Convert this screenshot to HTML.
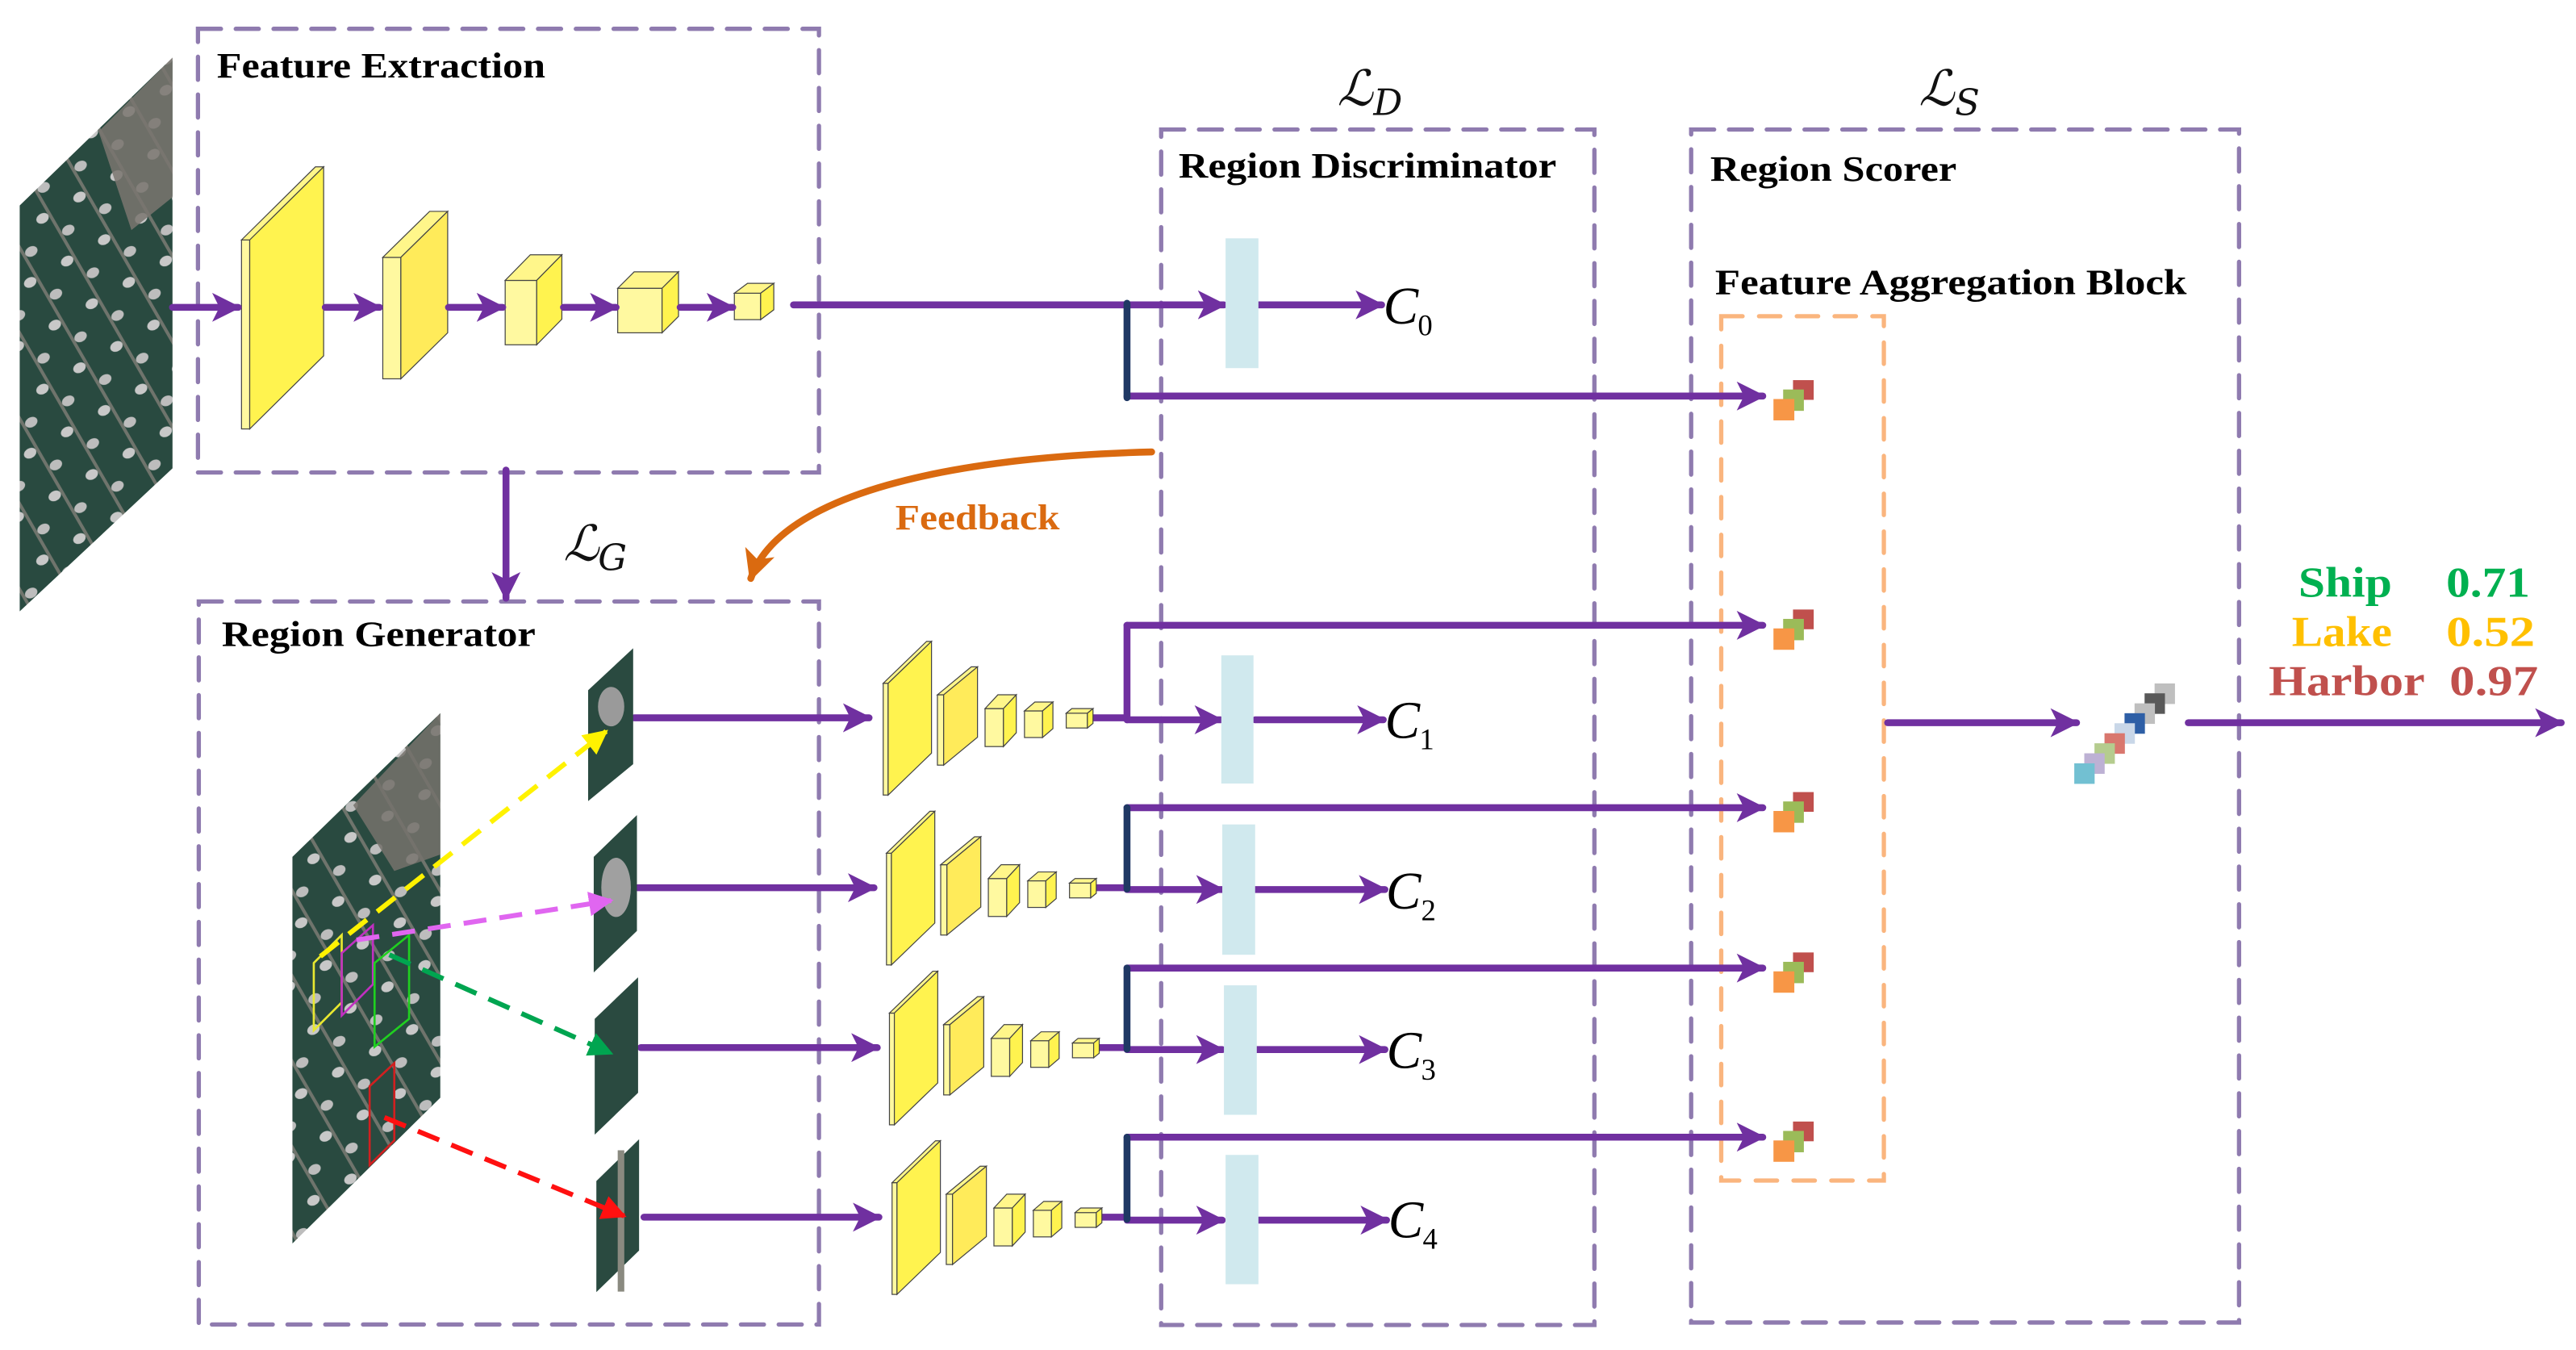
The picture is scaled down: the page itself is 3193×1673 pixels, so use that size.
<!DOCTYPE html>
<html><head><meta charset="utf-8"><style>
html,body{margin:0;padding:0;background:#fff;}
svg{display:block;}
.t{font-family:"Liberation Serif",serif;font-weight:bold;}
</style></head><body>
<svg width="3193" height="1673" viewBox="0 0 1568 821.5" xmlns="http://www.w3.org/2000/svg">
<defs>
<marker id="ah" viewBox="0 0 10 10" refX="9" refY="5" markerWidth="4.2" markerHeight="4.2" orient="auto" markerUnits="strokeWidth"><path d="M0,0 L10,5 L0,10 L2.5,5 Z" fill="#7030A0"/></marker>
<marker id="ao" viewBox="0 0 10 10" refX="9" refY="5" markerWidth="4.5" markerHeight="4.5" orient="auto" markerUnits="strokeWidth"><path d="M0,0 L10,5 L0,10 L2.5,5 Z" fill="#DA6A10"/></marker>
<marker id="ay" viewBox="0 0 10 10" refX="9" refY="5" markerWidth="5" markerHeight="5" orient="auto" markerUnits="strokeWidth"><path d="M0,0 L10,5 L0,10 Z" fill="#FFF200"/></marker>
<marker id="am" viewBox="0 0 10 10" refX="9" refY="5" markerWidth="5" markerHeight="5" orient="auto" markerUnits="strokeWidth"><path d="M0,0 L10,5 L0,10 Z" fill="#E066F0"/></marker>
<marker id="ag" viewBox="0 0 10 10" refX="9" refY="5" markerWidth="5" markerHeight="5" orient="auto" markerUnits="strokeWidth"><path d="M0,0 L10,5 L0,10 Z" fill="#00A550"/></marker>
<marker id="ar" viewBox="0 0 10 10" refX="9" refY="5" markerWidth="5" markerHeight="5" orient="auto" markerUnits="strokeWidth"><path d="M0,0 L10,5 L0,10 Z" fill="#FF1010"/></marker>
<pattern id="boats" width="26" height="30" patternUnits="userSpaceOnUse" patternTransform="rotate(-30)">
<rect width="26" height="30" fill="#294A40"/>
<rect x="12" y="0" width="2" height="30" fill="#6f746c"/>
<ellipse cx="8" cy="8" rx="4" ry="3" fill="#c8c8c8"/>
<ellipse cx="18" cy="22" rx="4" ry="3" fill="#bdbdbd"/>
</pattern>
<g id="stack" stroke="#444" stroke-width="0.6">
<rect x="0" y="-21" width="3" height="68" fill="#FFF9A0"/>
<polygon points="0,-21 26.4,-46.5 29.4,-46.5 3,-21" fill="#FFF68A"/>
<polygon points="3,-21 29.4,-46.5 29.4,21.5 3,47" fill="#FFF34F"/>
<rect x="33" y="-14" width="3.8" height="42.8" fill="#FFF9A0"/>
<polygon points="33,-14 53.6,-31 57.4,-31 36.8,-14" fill="#FFF68A"/>
<polygon points="36.8,-14 57.4,-31 57.4,11.8 36.8,28.8" fill="#FFEB5A"/>
<rect x="62" y="-5.6" width="11.2" height="23.1" fill="#FFF9A0"/>
<polygon points="62,-5.6 69.8,-14 81,-14 73.2,-5.6" fill="#FFF68A"/>
<polygon points="73.2,-5.6 81,-14 81,9.1 73.2,17.5" fill="#FFF34F"/>
<rect x="86" y="-4.2" width="11" height="16.2" fill="#FFF9A0"/>
<polygon points="86,-4.2 92.3,-9.6 103.3,-9.6 97,-4.2" fill="#FFF68A"/>
<polygon points="97,-4.2 103.3,-9.6 103.3,6.6 97,12" fill="#FFF34F"/>
<rect x="111.4" y="-2.8" width="12.9" height="9" fill="#FFF9A0"/>
<polygon points="111.4,-2.8 114.8,-5.6 127.7,-5.6 124.3,-2.8" fill="#FFF68A"/>
<polygon points="124.3,-2.8 127.7,-5.6 127.7,3.4 124.3,6.2" fill="#FFF34F"/>
</g>
<g id="sq">
<rect x="1091.4" y="-9.5" width="12.6" height="12" fill="#C0504D"/>
<rect x="1085.4" y="-3.8" width="12.6" height="13" fill="#9BBB59"/>
<rect x="1079.5" y="2" width="12.7" height="13" fill="#F79646"/>
</g>
</defs>

<g fill="none" stroke="#8F7BAF" stroke-width="2.6" stroke-dasharray="14 9" stroke-linecap="round">
<rect x="120.5" y="17.5" width="378" height="270"/>
<rect x="121" y="366" width="377.5" height="440"/>
<rect x="706.8" y="78.8" width="263.7" height="727.5"/>
<rect x="1029.4" y="78.8" width="333.5" height="726"/>
</g>
<rect x="1047.7" y="192.4" width="99" height="526" fill="none" stroke="#FAB57E" stroke-width="2.6" stroke-dasharray="13 10" stroke-linecap="round"/>

<text class="t" x="132" y="47" font-size="22" textLength="200" lengthAdjust="spacingAndGlyphs">Feature Extraction</text>
<text class="t" x="135" y="393" font-size="22" textLength="191" lengthAdjust="spacingAndGlyphs">Region Generator</text>
<text class="t" x="717.4" y="108" font-size="22" textLength="230" lengthAdjust="spacingAndGlyphs">Region Discriminator</text>
<text class="t" x="1041" y="110" font-size="22" textLength="150" lengthAdjust="spacingAndGlyphs">Region Scorer</text>
<text class="t" x="1044" y="179" font-size="22" textLength="287" lengthAdjust="spacingAndGlyphs">Feature Aggregation Block</text>

<g font-family="DejaVu Serif, serif" font-style="italic" fill="#111">
<text x="343" y="341" font-size="30">ℒ</text><text x="364" y="347" font-size="22">G</text>
<text x="814" y="64" font-size="30">ℒ</text><text x="836" y="70" font-size="22">D</text>
<text x="1168" y="64" font-size="30">ℒ</text><text x="1190" y="70" font-size="22">S</text>
</g>

<polygon points="12,125 105,35 105,285 12,372" fill="url(#boats)"/>
<polygon points="60,80 105,35 105,120 80,140" fill="#7a7670" opacity="0.85"/>

<g stroke="#444" stroke-width="0.6">
<rect x="147" y="146" width="5" height="115" fill="#FFF9A0"/>
<polygon points="147,146 192,101.5 197,101.5 152,146" fill="#FFF68A"/>
<polygon points="152,146 197,101.5 197,216.5 152,261" fill="#FFF34F"/>
<rect x="233" y="156.6" width="11" height="73.9" fill="#FFF9A0"/>
<polygon points="233,156.6 261.5,128.6 272.5,128.6 244,156.6" fill="#FFF68A"/>
<polygon points="244,156.6 272.5,128.6 272.5,202.5 244,230.5" fill="#FFEB5A"/>
<rect x="307.5" y="170.6" width="19.2" height="39.2" fill="#FFF9A0"/>
<polygon points="307.5,170.6 322.8,155 342,155 326.7,170.6" fill="#FFF68A"/>
<polygon points="326.7,170.6 342,155 342,194.2 326.7,209.8" fill="#FFF34F"/>
<rect x="376" y="175.4" width="27" height="27.1" fill="#FFF9A0"/>
<polygon points="376,175.4 386,165.4 413,165.4 403,175.4" fill="#FFF68A"/>
<polygon points="403,175.4 413,165.4 413,192.5 403,202.5" fill="#FFF34F"/>
<rect x="447" y="178.4" width="16" height="16.1" fill="#FFF9A0"/>
<polygon points="447,178.4 455,172.4 471,172.4 463,178.4" fill="#FFF68A"/>
<polygon points="463,178.4 471,172.4 471,188.5 463,194.5" fill="#FFF34F"/>
</g>

<g stroke="#7030A0" stroke-width="4.2" fill="none" stroke-linecap="round" marker-end="url(#ah)">
<path d="M105,187 H145"/>
<path d="M198,187 H231"/>
<path d="M273,187 H306"/>
<path d="M343,187 H375"/>
<path d="M414,187 H446"/>
<path d="M483,185.5 H745"/>
<path d="M765,185.5 H841"/>
<path d="M308,286 V364"/>
<path d="M686,241 H1073"/>
<path d="M386,436.8 H529"/>
<path d="M388,540.2 H532"/>
<path d="M390,637.5 H534"/>
<path d="M392,740.7 H535"/>
<path d="M686,380.5 H1073"/>
<path d="M686,491.5 H1073"/>
<path d="M686,589.1 H1073"/>
<path d="M686,692 H1073"/>
<path d="M686,438 H743"/>
<path d="M686,541.3 H744"/>
<path d="M686,638.7 H744"/>
<path d="M686,742.5 H744"/>
<path d="M764,438 H842"/>
<path d="M764,541.3 H843"/>
<path d="M765,638.7 H843"/>
<path d="M766,742.5 H844"/>
<path d="M1149,439.8 H1264"/>
<path d="M1332,439.8 H1559"/>
</g>
<g stroke="#7030A0" stroke-width="4.2" fill="none" stroke-linecap="round">
<path d="M665,436.8 H686"/>
<path d="M667,540.2 H686"/>
<path d="M669,637.5 H686"/>
<path d="M671,740.7 H686"/>
<path d="M686,380.5 V438"/>
</g>
<g stroke="#1F3864" stroke-width="4.2" stroke-linecap="round">
<path d="M686,184.5 V242"/>
<path d="M686,491.5 V541"/>
<path d="M686,589.1 V638.5"/>
<path d="M686,692 V742"/>
</g>

<use href="#stack" transform="translate(537.6,436.8)"/>
<use href="#stack" transform="translate(539.6,540.2)"/>
<use href="#stack" transform="translate(541.4,637.5)"/>
<use href="#stack" transform="translate(543,740.7)"/>

<g fill="#D0E9EE">
<rect x="746" y="145" width="20" height="79"/>
<rect x="743.4" y="398.8" width="19.6" height="78"/>
<rect x="744" y="501.7" width="20" height="79.3"/>
<rect x="745" y="599.6" width="20" height="78.8"/>
<rect x="746" y="702.8" width="20" height="78.7"/>
</g>

<g font-family="Liberation Serif, serif" fill="#000">
<text x="842" y="197" font-size="32" font-style="italic">C</text><text x="863" y="204" font-size="18">0</text>
<text x="843" y="449" font-size="32" font-style="italic">C</text><text x="864" y="456" font-size="18">1</text>
<text x="843.6" y="553" font-size="32" font-style="italic">C</text><text x="865" y="560" font-size="18">2</text>
<text x="844" y="650" font-size="32" font-style="italic">C</text><text x="865" y="657" font-size="18">3</text>
<text x="845" y="753" font-size="32" font-style="italic">C</text><text x="866" y="760" font-size="18">4</text>
</g>

<use href="#sq" transform="translate(0,240.8)"/>
<use href="#sq" transform="translate(0,380.4)"/>
<use href="#sq" transform="translate(0,491.5)"/>
<use href="#sq" transform="translate(0,589.1)"/>
<use href="#sq" transform="translate(0,692)"/>

<g>
<rect x="1311.5" y="415.9" width="12.4" height="12.5" fill="#BFBFBF"/>
<rect x="1305.4" y="421.9" width="12.4" height="12.5" fill="#595959"/>
<rect x="1299.3" y="428" width="12.4" height="12.5" fill="#BFBFBF"/>
<rect x="1293.2" y="434" width="12.4" height="12.5" fill="#2E5FA6"/>
<rect x="1287.1" y="440.1" width="12.4" height="12.5" fill="#C9D7E8"/>
<rect x="1281" y="446.2" width="12.4" height="12.5" fill="#D9776E"/>
<rect x="1274.9" y="452.3" width="12.4" height="12.5" fill="#B5CC8E"/>
<rect x="1268.7" y="458.4" width="12.4" height="12.5" fill="#BDB1D4"/>
<rect x="1262.6" y="464.5" width="12.4" height="12.5" fill="#72C0D2"/>
</g>

<g class="t" font-size="26">
<text x="1399" y="363" fill="#00B050" textLength="57" lengthAdjust="spacingAndGlyphs">Ship</text><text x="1489" y="363" fill="#00B050" textLength="51" lengthAdjust="spacingAndGlyphs">0.71</text>
<text x="1395" y="393" fill="#FFC000" textLength="61" lengthAdjust="spacingAndGlyphs">Lake</text><text x="1489" y="393" fill="#FFC000" textLength="54" lengthAdjust="spacingAndGlyphs">0.52</text>
<text x="1381" y="423" fill="#C0504D" textLength="95" lengthAdjust="spacingAndGlyphs">Harbor</text><text x="1491" y="423" fill="#C0504D" textLength="54" lengthAdjust="spacingAndGlyphs">0.97</text>
</g>

<path d="M701,275 C580,278 475,300 457,352" fill="none" stroke="#DA6A10" stroke-width="4.2" stroke-linecap="round" marker-end="url(#ao)"/>
<text class="t" x="545" y="322" font-size="22" fill="#DA6A10" textLength="100" lengthAdjust="spacingAndGlyphs">Feedback</text>

<polygon points="178,521.4 268,434 268,668 178,756.7" fill="url(#boats)"/>
<polygon points="215,490 268,434 268,520 240,530" fill="#76726c" opacity="0.85"/>
<g fill="none" stroke-width="1.3">
<polygon points="191,586 208,569 208,610 191,627" stroke="#E8E830"/>
<polygon points="208,580 227,563 227,599 208,618" stroke="#C030C0"/>
<polygon points="228,586 249,569 249,620 228,637" stroke="#20D020"/>
<polygon points="225,661 240,647 240,694 225,709" stroke="#D02020"/>
</g>
<polygon points="358,420 385.4,394.5 385.4,465 358,487.5" fill="#2A4A40"/>
<ellipse cx="372" cy="430" rx="8" ry="12" fill="#9a9a9a"/>
<polygon points="361.4,521.4 387.7,496 387.7,566.5 361.4,591.8" fill="#2A4A40"/>
<ellipse cx="375" cy="540" rx="9" ry="18" fill="#a0a0a0"/>
<polygon points="362,620 388.4,594.7 388.4,665 362,690.5" fill="#2A4A40"/>
<polygon points="363,718.7 389,693.3 389,761 363,786.3" fill="#2A4A40"/>
<path d="M378,700 V786" stroke="#8a8a80" stroke-width="4"/>

<g fill="none" stroke-width="3" stroke-dasharray="14 8">
<path d="M195,582 L369,445" stroke="#FFF200" marker-end="url(#ay)"/>
<path d="M217,572 L372,548" stroke="#E066F0" marker-end="url(#am)"/>
<path d="M237,581 L372,641" stroke="#00A550" marker-end="url(#ag)"/>
<path d="M234,680 L380,740" stroke="#FF1010" marker-end="url(#ar)"/>
</g>
</svg>
</body></html>
